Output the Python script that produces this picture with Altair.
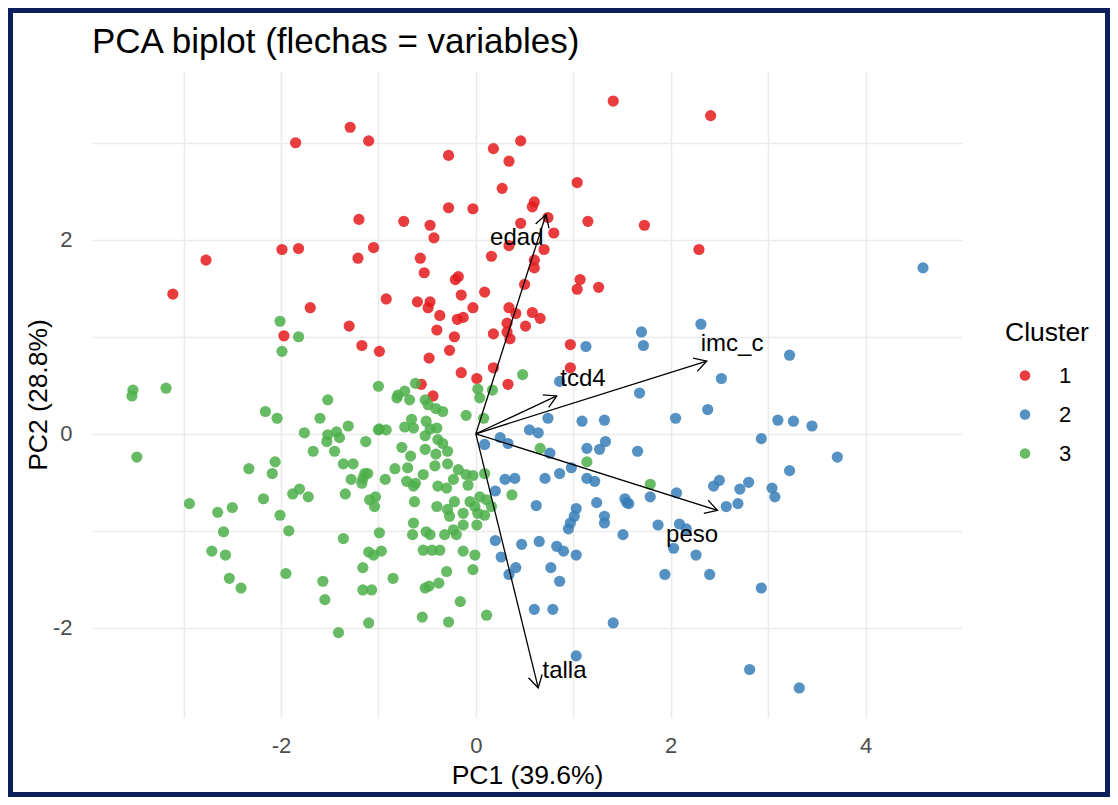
import math
import altair as alt
import pandas as pd

# ---------------- data ----------------
# Cluster 1 (red)
red_x = [1.41, 2.41, -1.29, -1.10, -1.85, 0.18, 0.46, -0.28, 0.34, 1.04,
         0.27, 0.60, 0.58, -0.28, -0.03, -0.74, -0.47, -0.43, 0.46, 0.74,
         0.80, 1.15, 1.73, 2.29, -1.20, -1.99, -1.82, -1.21, -1.05, -2.77,
         -3.11, -0.57, 0.16, 0.34, 0.70, 0.60, 0.60, -0.53, -0.21, -0.18,
         0.50, 1.07, 1.04, 1.26, 0.09, -0.15, -0.92, -0.60, -0.47, -0.49,
         -1.70, -1.30, -1.17, -0.99, -1.97, -0.37, -0.03, 0.34, 0.41, 0.58,
         0.66, -0.13, -0.19, -0.40, 0.32, 0.51, 0.18, 0.32, 0.35, -0.22,
         -0.48, -0.27, 0.97, -0.15, 0.01, 0.18, 0.33, -0.56, -0.44, 0.97]
red_y = [3.43, 3.28, 3.16, 3.02, 3.00, 2.94, 3.02, 2.87, 2.81, 2.59,
         2.53, 2.39, 2.34, 2.33, 2.32, 2.19, 2.15, 2.02, 2.17, 2.23,
         2.07, 2.19, 2.15, 1.90, 2.21, 1.90, 1.91, 1.81, 1.92, 1.79,
         1.44, 1.81, 1.83, 1.94, 1.90, 1.79, 1.71, 1.66, 1.59, 1.62,
         1.54, 1.59, 1.49, 1.51, 1.46, 1.43, 1.39, 1.36, 1.36, 1.30,
         1.30, 1.11, 0.91, 0.85, 1.01, 1.22, 1.30, 1.30, 1.24, 1.25,
         1.19, 1.20, 1.18, 1.07, 1.14, 1.11, 1.03, 1.05, 0.98, 1.00,
         0.78, 0.86, 0.92, 0.63, 0.57, 0.68, 0.51, 0.51, 0.39, 0.68]

# Cluster 2 (blue)
blue_x = [4.59, 2.31, 1.70, 1.72, 1.13, 3.22, 2.52, 1.68, 2.05, 2.38,
          1.09, 1.32, 3.10, 3.26, 3.45, 2.93, 1.14, 1.27, 1.33, 1.66,
          3.71, 0.86, 0.74, 0.55, 0.64, 0.09, 0.25, 0.33, 0.76, 0.86,
          0.98, 1.14, 1.22, 0.30, 0.40, 0.20, 0.71, 0.62, 1.03, 1.24,
          1.55, 1.01, 0.97, 0.95, 1.32, 1.32, 1.87, 0.20, 0.47, 0.65,
          0.83, 0.90, 1.03, 1.51, 0.26, 0.41, 0.34, 0.77, 0.86, 0.60,
          0.79, 1.41, 1.03, 3.22, 1.53, 1.79, 2.06, 2.09, 2.16, 2.03,
          2.26, 1.94, 2.40, 2.93, 2.44, 2.50, 2.71, 2.80, 2.57, 2.69,
          3.04, 3.07, 2.81, 3.32, 1.57]
blue_y = [1.71, 1.13, 1.05, 0.91, 0.90, 0.81, 0.57, 0.42, 0.16, 0.25,
          0.13, 0.14, 0.14, 0.13, 0.08, -0.05, -0.15, -0.16, -0.08, -0.18,
          -0.24, 0.54, 0.16, 0.04, 0.01, -0.11, -0.04, -0.10, -0.20, -0.41,
          -0.35, -0.46, -0.49, -0.47, -0.46, -0.59, -0.46, -0.74, -0.77, -0.71,
          -0.71, -0.85, -0.92, -0.98, -0.85, -0.92, -0.94, -1.10, -1.14, -1.11,
          -1.16, -1.21, -1.25, -1.04, -1.27, -1.38, -1.45, -1.38, -1.52, -1.81,
          -1.81, -1.95, -2.29, -0.38, -0.67, -0.65, -0.61, -0.93, -0.98, -1.18,
          -1.25, -1.45, -1.45, -1.59, -0.54, -0.48, -0.57, -0.50, -0.75, -0.72,
          -0.56, -0.65, -2.43, -2.62, -0.72]

# Cluster 3 (green)
green_x = [-2.01, -1.82, -1.99, -3.52, -3.53, -3.18, -3.48, -1.52, -2.16, -2.04,
           -1.60, -1.31, -1.43, -1.52, -1.53, -1.40, -1.76, -1.13, -1.00, -1.00,
           -1.67, -1.45, -2.33, -2.06, -2.09, -1.36, -1.26, -1.11, -1.16, -1.28,
           -2.94, -2.65, -2.50, -2.59, -2.18, -2.01, -1.92, -1.88, -1.81, -1.72,
           -2.71, -2.57, -2.53, -2.41, -1.95, -1.57, -1.55, -1.36, -1.34, -1.17,
           -1.09, -1.04, -1.03, -1.16, -1.10, -1.05, -1.16, -1.07, -1.10, -1.41,
           -0.99, 0.48, -0.62, -0.80, -0.73, -0.68, -0.81, -0.52, -0.49, -0.41,
           -0.34, 0.02, 0.04, 0.17, 0.08, -0.10, -0.66, -0.73, -0.64, -0.51,
           -0.47, -0.40, -0.52, -0.39, -0.34, -0.99, -0.92, -0.76, -0.67, -0.70,
           -0.83, -0.52, -0.41, -0.29, -0.42, -0.29, -0.18, -0.23, -0.10, -0.03,
           -0.08, 0.09, -1.14, -0.93, -0.71, -0.62, -0.54, -0.64, -0.39, -0.30,
           -0.63, -0.40, -0.29, -0.22, -0.13, -0.27, -0.06, -0.01, 0.04, 0.11,
           0.02, 0.09, 0.16, 0.37, 0.66, 1.14, -0.64, -0.51, -0.23, 0.01,
           -0.13, -0.65, -0.47, -0.32, -0.20, -0.97, -0.54, -0.45, -0.37, -0.13,
           -0.01, -0.85, -0.30, -0.03, -0.52, -0.48, -0.38, -0.16, -0.55, -0.28,
           0.11, 1.79]
green_y = [1.16, 1.00, 0.85, 0.45, 0.39, 0.47, -0.24, 0.35, 0.23, 0.16,
           0.16, 0.08, 0.02, -0.01, -0.08, -0.04, 0.01, -0.08, 0.49, 0.04,
           -0.18, -0.18, -0.36, -0.29, -0.41, -0.31, -0.31, -0.41, -0.46, -0.47,
           -0.72, -0.81, -0.76, -1.01, -0.67, -0.84, -1.00, -0.62, -0.57, -0.65,
           -1.21, -1.25, -1.49, -1.59, -1.44, -1.52, -1.71, -1.08, -0.62, -0.51,
           -0.68, -0.75, -0.65, -1.38, -1.22, -1.25, -1.61, -1.61, -1.95, -2.05,
           -1.02, 0.61, 0.52, 0.40, 0.44, 0.35, 0.37, 0.35, 0.30, 0.26,
           0.23, 0.46, 0.37, 0.45, 0.16, 0.19, 0.15, 0.07, 0.06, 0.13,
           0.05, 0.06, -0.02, -0.06, -0.10, 0.05, 0.04, -0.14, -0.23, -0.35,
           -0.36, -0.16, -0.21, -0.18, -0.33, -0.31, -0.37, -0.47, -0.42, -0.43,
           -0.53, -0.41, -0.41, -0.47, -0.49, -0.51, -0.42, -0.54, -0.54, -0.56,
           -0.70, -0.75, -0.78, -0.70, -0.82, -0.85, -0.70, -0.75, -0.65, -0.68,
           -0.82, -0.84, -0.75, -0.63, -0.15, -0.29, -0.92, -1.01, -0.99, -0.94,
           -0.94, -1.04, -1.04, -1.04, -1.04, -1.21, -1.20, -1.20, -1.20, -1.21,
           -1.25, -1.49, -1.42, -1.40, -1.59, -1.57, -1.54, -1.73, -1.89, -1.94,
           -1.87, -0.52]

# Variable arrows (loadings) and label positions
var_names = ["edad", "imc_c", "tcd4", "peso", "talla"]
arrow_x = [0.72, 2.37, 0.83, 2.48, 0.64]
arrow_y = [2.26, 0.75, 0.39, -0.79, -2.62]
label_x = [0.42, 2.63, 1.10, 2.22, 0.91]
label_y = [2.02, 0.93, 0.56, -1.04, -2.45]

clusters = ["1", "2", "3"]
cluster_colors = ["#E41A1C", "#377EB8", "#4DAF4A"]

x_ticks = [-3, -2, -1, 0, 1, 2, 3, 4]
y_ticks = [-2, -1, 0, 1, 2, 3]
x_domain = [-3.94, 4.99]
y_domain = [-2.93, 3.74]

chart_title = "PCA biplot (flechas = variables)"

# ---------------- tables ----------------
pts = pd.concat([
    pd.DataFrame({"x": red_x, "y": red_y, "Cluster": "1"}),
    pd.DataFrame({"x": blue_x, "y": blue_y, "Cluster": "2"}),
    pd.DataFrame({"x": green_x, "y": green_y, "Cluster": "3"}),
], ignore_index=True)
pts["order"] = range(len(pts))

arrows = pd.DataFrame({"var": var_names, "x0": 0.0, "y0": 0.0,
                       "x": arrow_x, "y": arrow_y,
                       "lx": label_x, "ly": label_y})
arrows["angle"] = [(math.degrees(math.atan2(dx, dy)) + 360) % 360
                   for dx, dy in zip(arrow_x, arrow_y)]

FONT = "Liberation Sans"
lab_expr = "datum.value % 2 == 0 ? '' + datum.value : ''"

x_scale = alt.Scale(domain=x_domain, nice=False, zero=False)
y_scale = alt.Scale(domain=y_domain, nice=False, zero=False)
x_axis = alt.Axis(title="PC1 (39.6%)", values=x_ticks, labelExpr=lab_expr,
                  grid=True, ticks=False, domain=False, labelPadding=17,
                  titlePadding=6)
y_axis = alt.Axis(title="PC2 (28.8%)", values=y_ticks, labelExpr=lab_expr,
                  grid=True, ticks=False, domain=False, labelPadding=20,
                  titlePadding=0)

points = alt.Chart(pts).mark_circle(size=125, opacity=0.85).encode(
    x=alt.X("x:Q", scale=x_scale, axis=x_axis),
    y=alt.Y("y:Q", scale=y_scale, axis=y_axis),
    color=alt.Color("Cluster:N",
                    scale=alt.Scale(domain=clusters, range=cluster_colors),
                    legend=alt.Legend(title="Cluster", orient="none",
                                      legendX=913, legendY=249,
                                      symbolType="circle", symbolSize=112,
                                      symbolOpacity=0.85, symbolStrokeWidth=0,
                                      symbolOffset=9, labelOffset=23,
                                      rowPadding=17, titlePadding=18)),
    order=alt.Order("order:Q"),
)

shafts = alt.Chart(arrows).mark_rule(color="black", strokeWidth=1.3).encode(
    x=alt.X("x0:Q", scale=x_scale, axis=x_axis),
    y=alt.Y("y0:Q", scale=y_scale, axis=y_axis),
    x2="x:Q",
    y2="y:Q",
)

heads = alt.Chart(arrows).mark_point(
    shape="M-0.5,0.866L0,0L0.5,0.866", filled=False, stroke="black",
    strokeWidth=1.3, size=784, opacity=1,
).encode(
    x=alt.X("x:Q", scale=x_scale, axis=x_axis),
    y=alt.Y("y:Q", scale=y_scale, axis=y_axis),
    angle=alt.Angle("angle:Q", scale=None),
)

labels = alt.Chart(arrows).mark_text(
    font=FONT, fontSize=24, color="black", align="center", baseline="middle",
).encode(
    x=alt.X("lx:Q", scale=x_scale, axis=x_axis),
    y=alt.Y("ly:Q", scale=y_scale, axis=y_axis),
    text="var:N",
)

deco = pd.DataFrame({"t": [chart_title]})

title_text = alt.Chart(deco).mark_text(
    font=FONT, fontSize=35, color="black", align="left",
    baseline="alphabetic",
).encode(
    x=alt.value(0), y=alt.value(-18), text="t:N",
)

frame = alt.Chart(deco).mark_rect(
    fillOpacity=0, stroke="#0B1F5C", strokeWidth=5,
).encode(
    x=alt.value(-81.5), x2=alt.value(1015.5),
    y=alt.value(-60.5), y2=alt.value(723.5),
)

chart = alt.layer(points, shafts, heads, labels, title_text, frame).properties(
    width=870, height=647,
    autosize=alt.AutoSizeParams(type="none"),
    padding={"left": 84, "top": 63, "right": 148, "bottom": 79},
).configure(
    font=FONT, background="white",
).configure_view(
    stroke="transparent",
).configure_axis(
    gridColor="#EBEBEB", gridWidth=1.6,
    labelFont=FONT, labelFontSize=22, labelColor="#4D4D4D",
    titleFont=FONT, titleFontSize=26.5, titleFontWeight="normal",
    titleColor="black",
).configure_legend(
    titleFont=FONT, titleFontSize=26.5, titleFontWeight="normal",
    titleColor="black", labelFont=FONT, labelFontSize=22,
    labelColor="black",
)

chart.save("out.html", embed_options={"renderer": "svg", "actions": False})
